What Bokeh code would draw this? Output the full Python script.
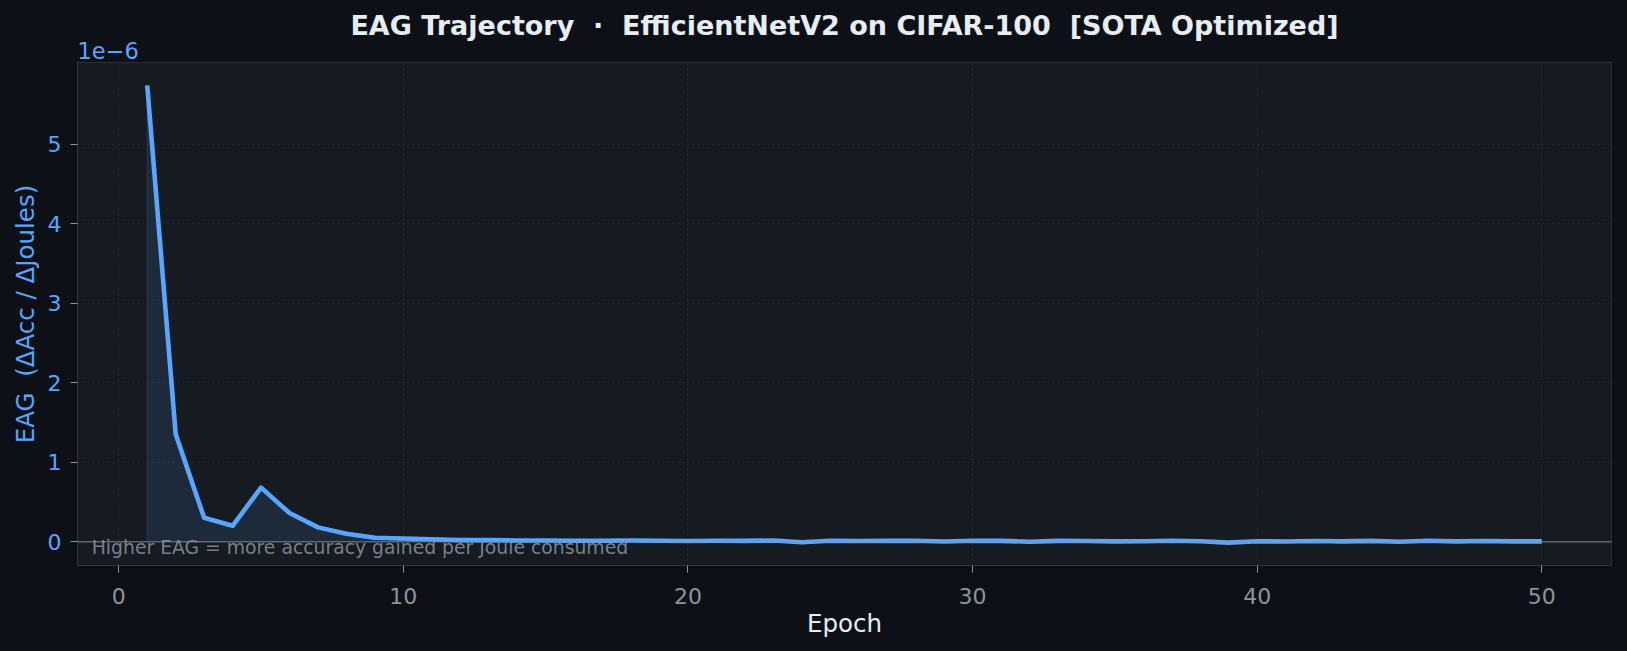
from bokeh.plotting import figure
from bokeh.models import Range1d, Label, Title, Span, FixedTicker, ColumnDataSource
from bokeh.embed import file_html
from bokeh.resources import INLINE

# ---- data (EAG in units of 1e-6) ----
epochs = list(range(1, 51))
eag_e6 = [5.74, 1.35, 0.30, 0.20, 0.68, 0.36, 0.18, 0.10, 0.05, 0.04,
          0.03, 0.02, 0.02, 0.015, 0.015, 0.012, 0.012, 0.015, 0.012, 0.008,
          0.012, 0.010, 0.014, -0.008, 0.012, 0.008, 0.010, 0.012, 0.002, 0.012,
          0.010, 0.000, 0.010, 0.008, 0.004, 0.006, 0.012, 0.006, -0.012, 0.006,
          0.002, 0.008, 0.004, 0.010, 0.000, 0.012, 0.004, 0.008, 0.004, 0.004]
x_ticks = [0, 10, 20, 30, 40, 50]
y_ticks = [0, 1, 2, 3, 4, 5]
NB = "\u00a0"
title_text = "EAG Trajectory " + NB + "\u00b7 " + NB + "EfficientNetV2 on CIFAR-100 " + NB + "[SOTA Optimized]"
ylabel_text = "EAG " + NB + "(\u0394Acc / \u0394Joules)"
offset_text = "1e\u22126"
note_text = "Higher EAG = more accuracy gained per Joule consumed"

BG = "#0d1117"
PANEL = "#161b22"
BLUE = "#58a6ff"
GREY = "#8b949e"
FONT = "DejaVu Sans"

# matplotlib-like 5% margins
xmin, xmax = min(epochs), max(epochs)
ymin, ymax = min(min(eag_e6), 0.0), max(eag_e6)
xpad = 0.05 * (xmax - xmin)
ypad = 0.05 * (ymax - ymin)
x_range = Range1d(xmin - xpad, xmax + xpad)
y_range = Range1d(ymin - ypad, ymax + ypad)

p = figure(width=1627, height=651, output_backend="svg", toolbar_location=None,
           x_range=x_range, y_range=y_range,
           background_fill_color=PANEL, border_fill_color=BG,
           min_border_left=77, min_border_right=16, min_border_top=62, min_border_bottom=86)

src = ColumnDataSource(dict(x=epochs, y=eag_e6, y0=[0.0] * len(epochs)))

# filled area under curve
p.varea(x="x", y1="y0", y2="y", source=src, fill_color=BLUE, fill_alpha=0.11)
p.segment(x0=[epochs[0]], y0=[0.0], x1=[epochs[0]], y1=[eag_e6[0]],
          line_color=BLUE, line_alpha=0.18, line_width=1)

# zero line
p.add_layout(Span(location=0, dimension="width", line_color=GREY, line_alpha=0.6, line_width=1.5))

# main line
p.line(x="x", y="y", source=src, line_color=BLUE, line_width=4.6, line_join="round")

# annotation
p.add_layout(Label(x=x_range.start + 0.5, y=y_range.start + 0.225, text=note_text,
                   text_font=FONT, text_font_size="18.8px", text_color=GREY,
                   text_alpha=0.85, text_baseline="alphabetic"))

# grid
p.xgrid.ticker = FixedTicker(ticks=x_ticks)
p.ygrid.ticker = FixedTicker(ticks=y_ticks)
for g in (p.xgrid, p.ygrid):
    g.grid_line_color = "#30363d"
    g.grid_line_alpha = 0.6
    g.grid_line_dash = "2 3"
    g.grid_line_width = 1

# axes
p.xaxis.ticker = FixedTicker(ticks=x_ticks)
p.yaxis.ticker = FixedTicker(ticks=y_ticks)
for ax in (p.xaxis, p.yaxis):
    ax.axis_line_color = "#30363d"
    ax.major_tick_line_color = GREY
    ax.major_tick_out = 7
    ax.major_tick_in = 0
    ax.minor_tick_line_color = None
    ax.major_label_text_font = FONT
    ax.major_label_text_font_size = "22px"
    ax.axis_label_text_font = FONT
    ax.axis_label_text_font_size = "24.5px"
    ax.axis_label_text_font_style = "normal"

p.xaxis.axis_label = "Epoch"
p.xaxis.axis_label_text_color = "#e6edf3"
p.xaxis.major_label_text_color = GREY
p.xaxis.major_label_standoff = 15
p.xaxis.axis_label_standoff = 2

p.yaxis.axis_label = ylabel_text
p.yaxis.axis_label_text_color = BLUE
p.yaxis.major_label_text_color = BLUE
p.yaxis.major_label_standoff = 9
p.yaxis.axis_label_standoff = 5

p.outline_line_color = "#30363d"
p.outline_line_alpha = 0.8

# titles: scale text first (closest to frame), then main title
p.title.visible = False
p.add_layout(Title(text=offset_text, align="left", text_font=FONT, text_font_size="22.5px",
                   text_color=BLUE, text_font_style="normal", standoff=8, offset=0), "above")
p.add_layout(Title(text=title_text, align="center", text_font=FONT, text_font_size="27px",
                   text_color="#e6edf3", text_font_style="bold", standoff=-10.5), "above")

html = file_html(p, INLINE)
html = html.replace("</head>", "<style>html, body { background: %s; }</style></head>" % BG, 1)
open("out.html", "w").write(html)
